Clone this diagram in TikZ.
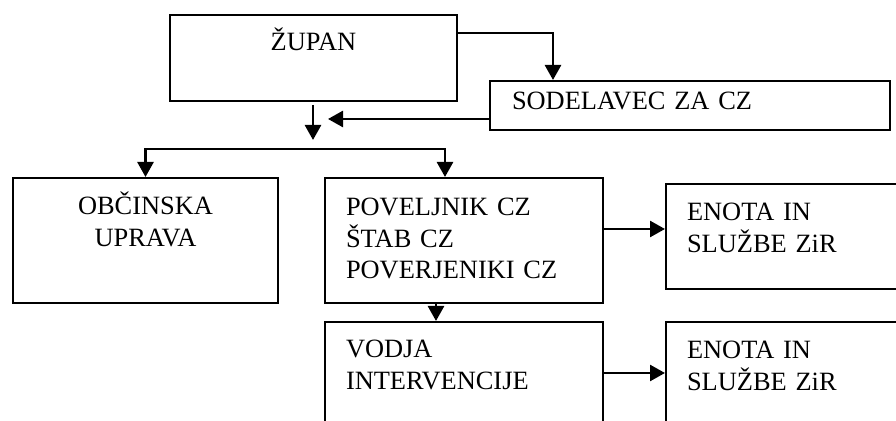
\documentclass[tikz,border=0pt]{standalone}
\usepackage{fontspec}
\setmainfont{Liberation Serif}
\usetikzlibrary{arrows.meta,positioning,calc}

\begin{document}
\begin{tikzpicture}[x=0.5pt,y=-0.5pt,
  box/.style={draw,line width=1pt,anchor=north west,inner sep=0pt,
    font=\fontsize{13.2}{15.75}\selectfont},
  midbox/.style={box,align=center},
  leftbox/.style={box,align=left,inner xsep=10.5pt},
  arr/.style={line width=1.3pt,-{Triangle[length=7.5pt,width=8pt]}}]
\useasboundingbox (0,0) rectangle (896,421);
\clip (0,0) rectangle (896,421);

\node[midbox,text width=143.5pt,text height=18pt,text depth=25pt] (zupan) at (169,14) {ŽUPAN};
\node[leftbox,inner xsep=11pt,text width=178pt,text height=14.5pt,text depth=10pt] (sodel) at (489,80) {SODELAVEC ZA CZ};
\node[midbox,text width=132.5pt,text height=18.5pt,text depth=44pt] (obcin) at (12,177) {OBČINSKA\\UPRAVA};
\node[leftbox,text width=118pt,text height=19pt,text depth=43.5pt] (povel) at (324,177) {POVELJNIK CZ\\ŠTAB CZ\\POVERJENIKI CZ};
\node[leftbox,text width=118pt,text height=18pt,text depth=41.5pt] (vodja) at (324,321) {VODJA\\INTERVENCIJE};
\node[leftbox,text width=101.5pt,text height=18.5pt,text depth=34pt] (enota1) at (665,183) {ENOTA IN\\SLUŽBE ZiR};
\node[leftbox,text width=101.5pt,text height=18.5pt,text depth=41pt] (enota2) at (665,321) {ENOTA IN\\SLUŽBE ZiR};

\coordinate (top) at (313,105);
\coordinate (tip) at (313,140);
\coordinate (bus) at (313,149);
\coordinate (join) at (328,119);

\draw[arr] ([yshift=12.5pt]zupan.east) -| ([xshift=32pt]sodel.north west);
\draw[arr] (sodel.west |- join) -- (join);
\draw[arr] (top) -- (tip);
\draw[arr] (bus) -| (obcin.north);
\draw[arr] (bus) -| ([xshift=-9.5pt]povel.north);
\draw[arr] ([xshift=-14pt]povel.south) -- ([xshift=-14pt]vodja.north);
\draw[arr] ([yshift=5.75pt]povel.east) -- ([yshift=3.75pt]enota1.west);
\draw[arr] ([yshift=4.25pt]vodja.east) -- ([yshift=4.25pt]enota2.west);
\end{tikzpicture}
\end{document}
